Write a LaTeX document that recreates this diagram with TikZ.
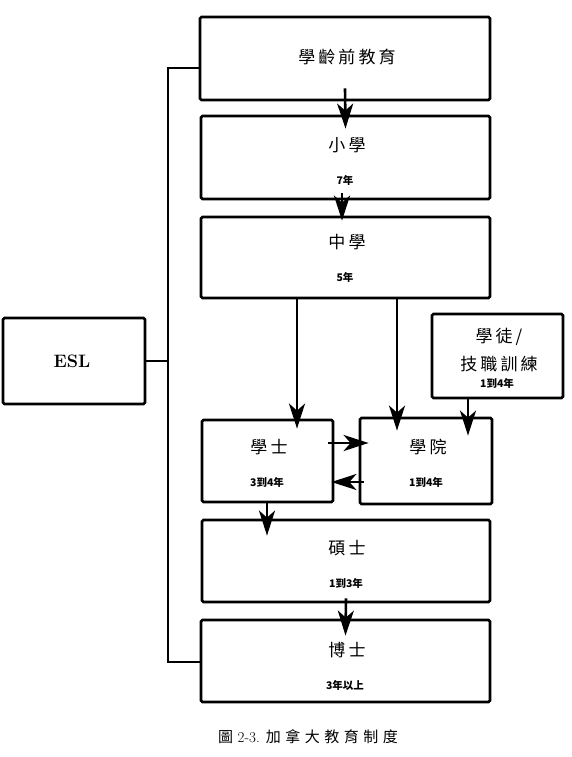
\documentclass[tikz,border=0pt]{standalone}
\usepackage{fontspec}
\usetikzlibrary{arrows.meta,calc}
\newfontfamily\cjk[LetterSpace=18]{Noto Sans CJK TC}
\newfontfamily\cjksub{Noto Sans CJK TC}
\newfontfamily\cjkcap[LetterSpace=30]{Noto Sans CJK TC}
\begin{document}
\begin{tikzpicture}[x=1pt,y=-1pt,
  box/.style={draw,line width=2.8pt,rounded corners=1.5pt,inner sep=0pt,minimum width=#1},
  ttl/.style={font=\cjk\fontsize{17}{20}\selectfont,inner sep=0pt},
  sub/.style={font=\cjksub\bfseries\fontsize{10.5}{12}\selectfont,inner sep=0pt},
  arr/.style={line width=2.6pt,-{Stealth[length=25pt,width=16pt,inset=7pt]}},
  brk/.style={line width=2.6pt}]
\useasboundingbox[fill=white] (0,0) rectangle (571,757);
% boxes
\node[box=290pt,minimum height=83pt] (pre) at (345,58.5) {};
\node[box=289pt,minimum height=83pt] (pri) at (345.5,157.5) {};
\node[box=289pt,minimum height=81pt] (sec) at (345.5,257.5) {};
\node[box=142pt,minimum height=86pt] (esl) at (74,361) {};
\node[box=131pt,minimum height=84pt] (app) at (497.5,356) {};
\node[box=131pt,minimum height=82pt] (bac) at (267.5,461) {};
\node[box=132pt,minimum height=86pt] (col) at (426,461) {};
\node[box=288pt,minimum height=82pt] (mas) at (346,561) {};
\node[box=289pt,minimum height=82pt] (phd) at (345.5,661) {};
% texts
\node[ttl] (preT) at (347,57) {學齡前教育};
\node[ttl] (priT) at (347,145) {小學};
\node[sub] (priS) at (345,180) {7年};
\node[ttl] (secT) at (347,242) {中學};
\node[sub] (secS) at (345,277) {5年};
\node[font=\bfseries\fontsize{18}{21}\selectfont,inner sep=0pt] (eslT) at (72,361) {ESL};
\node[ttl] (appT1) at (499,337) {學徒/};
\node[ttl] (appT2) at (499,364) {技職訓練};
\node[sub] (appS) at (497,383) {1到4年};
\node[ttl] (bacT) at (269,447) {學士};
\node[sub] (bacS) at (267,482) {3到4年};
\node[ttl] (colT) at (428,447) {學院};
\node[sub] (colS) at (426,482) {1到4年};
\node[ttl] (masT) at (347,548) {碩士};
\node[sub] (masS) at (346,583) {1到3年};
\node[ttl] (phdT) at (347,650) {博士};
\node[sub] (phdS) at (345,685) {3年以上};
\node[inner sep=0pt,font=\fontsize{15}{17}\selectfont] (cap) at (308,737) {{\cjksub 圖} 2-3. {\cjkcap 加拿大教育制度}};
% bracket
\coordinate (bt) at (168,68);
\coordinate (bb) at (168,662);
\draw[brk] (pre.west |- bt) -- (bt) -- (bb) -- (phd.west |- bb);
\draw[brk] (esl.east) -- (esl.east -| bt);
% arrows
\draw[arr] ($(pre.south)+(0,-13)$) -- ($(pri.north)+(0,14)$);
\draw[arr] ($(pri.south)+(-3.5,-7)$) -- ($(sec.north)+(-3.5,5)$);
\draw[arr] (sec.south -| 297,0) -- ($(bac.north -| 297,0)+(0,10)$);
\draw[arr] (sec.south -| 397,0) -- ($(col.north -| 397,0)+(0,14)$);
\draw[arr] (app.south -| 468,0) -- ($(col.north -| 468,0)+(0,19)$);
\draw[arr] ($(bac.east |- 0,443)+(-6,0)$) -- ($(col.west |- 0,443)+(10,0)$);
\draw[arr] ($(col.west |- 0,482)+(5,0)$) -- ($(bac.east |- 0,482)+(-3,0)$);
\draw[arr] ($(bac.south -| 267,0)+(0,-2)$) -- ($(mas.north -| 267,0)+(0,17)$);
\draw[arr] ($(mas.south)+(0,-5)$) -- ($(phd.north)+(0,17)$);
\end{tikzpicture}
\end{document}
